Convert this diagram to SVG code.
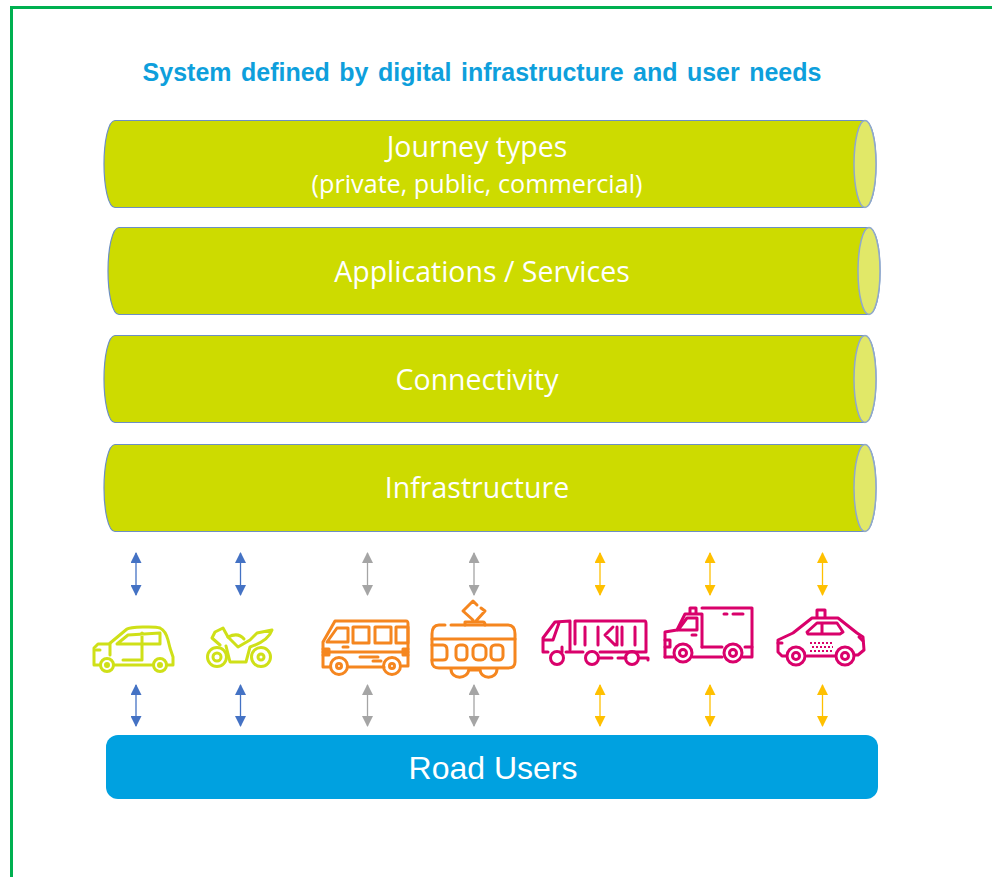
<svg xmlns="http://www.w3.org/2000/svg" width="992" height="877" viewBox="0 0 992 877">
<style>
text{font-family:"Open Sans","Noto Sans",sans-serif;fill:#fff;text-anchor:middle}
.body{fill:#cddb00;stroke:#6d8fc4;stroke-width:1.2}
.cap{fill:#e1e868;stroke:#8fa8cc;stroke-width:1.5}
.lbl{font-size:28.500px}
.ic{fill:none;stroke-width:3;stroke-linecap:round;stroke-linejoin:round}
.lime{stroke:#cfe018}.or{stroke:#f5861f}.pk{stroke:#d9016b}
.ab{stroke:#4472c4}.ag{stroke:#a5a5a5}.ay{stroke:#ffc000}
.ab,.ag,.ay{stroke-width:1.3;fill:none}
.ab{marker-start:url(#mb);marker-end:url(#mb)}
.ag{marker-start:url(#mg);marker-end:url(#mg)}
.ay{marker-start:url(#my);marker-end:url(#my)}
</style>
<defs>
<path id="cyl" d="M11 0H760C768 0 772 20 772 43.500S768 87 760 87H11C4 87 0 65 0 43.500S4 0 11 0Z"/>
<marker id="mb" markerWidth="11" markerHeight="11" refX="10" refY="5.500" orient="auto-start-reverse" markerUnits="userSpaceOnUse"><path d="M0 0L11 5.500L0 11Z" fill="#4472c4"/></marker>
<marker id="mg" markerWidth="11" markerHeight="11" refX="10" refY="5.500" orient="auto-start-reverse" markerUnits="userSpaceOnUse"><path d="M0 0L11 5.500L0 11Z" fill="#a5a5a5"/></marker>
<marker id="my" markerWidth="11" markerHeight="11" refX="10" refY="5.500" orient="auto-start-reverse" markerUnits="userSpaceOnUse"><path d="M0 0L11 5.500L0 11Z" fill="#ffc000"/></marker>
</defs>
<rect width="992" height="877" fill="#fff"/>
<path d="M992 7.500H11.500V877" fill="none" stroke="#00b050" stroke-width="3"/>
<text id="title" x="482" y="81" style="font-family:'Liberation Sans',Arial,sans-serif;font-weight:700;font-size:25px;fill:#0e9fdc;word-spacing:2.500px">System defined by digital infrastructure and user needs</text>

<g id="node-journey" transform="translate(104,120.500)">
<use href="#cyl" class="body"/><ellipse class="cap" cx="761" cy="43.500" rx="11" ry="43.500"/>
<text class="lbl" x="373" y="36.500">Journey types</text>
<text x="373" y="72" font-size="25.200">(private, public, commercial)</text>
</g>
<g id="node-apps" transform="translate(108,227.500)">
<use href="#cyl" class="body"/><ellipse class="cap" cx="761" cy="43.500" rx="11" ry="43.500"/>
<text class="lbl" x="374" y="54">Applications / Services</text>
</g>
<g id="node-connectivity" transform="translate(104,335.500)">
<use href="#cyl" class="body"/><ellipse class="cap" cx="761" cy="43.500" rx="11" ry="43.500"/>
<text class="lbl" x="373" y="54">Connectivity</text>
</g>
<g id="node-infrastructure" transform="translate(104,444.500)">
<use href="#cyl" class="body"/><ellipse class="cap" cx="761" cy="43.500" rx="11" ry="43.500"/>
<text class="lbl" x="373" y="53">Infrastructure</text>
</g>

<g id="connectors">
<path class="ab" d="M136 553V595"/><path class="ab" d="M136 685V726"/>
<path class="ab" d="M240.500 553V595"/><path class="ab" d="M240.500 685V726"/>
<path class="ag" d="M367.500 553V595"/><path class="ag" d="M367.500 685V726"/>
<path class="ag" d="M474 553V595"/><path class="ag" d="M474 685V726"/>
<path class="ay" d="M600 553V595"/><path class="ay" d="M600 685V726"/>
<path class="ay" d="M710 553V595"/><path class="ay" d="M710 685V726"/>
<path class="ay" d="M822.500 553V595"/><path class="ay" d="M822.500 685V726"/>
</g>

<g id="node-car" class="ic lime">
<path d="M100 665H94V648L98 644H109L127 629C130 627 155 626 160 628C164 630 167 636 168 640L170 648L173 657V665H167M153 665H114"/>
<path d="M117 644L128 635L160 633V644ZM142 633V660M110 644V655M123 660H140M96 650H100"/>
<circle cx="107" cy="665" r="6.500"/><circle cx="107" cy="665" r="1.500"/>
<circle cx="160" cy="665" r="6.500"/><circle cx="160" cy="665" r="1.500"/>
</g>
<g id="node-motorbike" class="ic lime">
<circle cx="217" cy="657" r="9.500"/><circle cx="217" cy="657" r="4"/>
<circle cx="261" cy="657" r="9.500"/><circle cx="261" cy="657" r="3"/>
<path d="M220 645L212 638L215 632L223 628L228 637L238 647L250 640L257 633L272 630C269 639 259 644 250 647L246 662H230L226 646"/>
<path d="M228 637C234 634 240 634 244 639"/>
</g>
<g id="node-bus" class="ic or">
<path d="M330 667H323V642L335 621H406C408 621 408 622 408 624V666H402M384 667H349"/>
<path d="M327 642L337 628H348V642ZM353 627H369V643H353ZM375 627H391V643H375ZM408 627H396V643H408Z"/>
<path d="M323 652H408M323 649H329V655H323M408 649H403V655H408M360 657H378M373 661H381M343 647H348"/>
<circle cx="339" cy="666" r="8.500"/><circle cx="339" cy="666" r="2.500"/>
<circle cx="392" cy="666" r="8.500"/><circle cx="392" cy="666" r="2.500"/>
</g>
<g id="node-tram" class="ic or">
<path d="M445 625H439C434 625 432 629 432 634V662C432 666 435 668 439 668H508C513 668 515 666 515 662V634C515 629 513 625 508 625H451"/>
<path d="M432 639H515M432 645H443C446 645 447 647 447 650V656C447 659 446 660 443 660H432"/>
<rect x="456" y="645" width="11" height="15" rx="4"/><rect x="473" y="645" width="13" height="15" rx="5"/><rect x="491" y="645" width="12" height="15" rx="4"/>
<path d="M465 625V622H483C484 622 485 623 485 625M473 620L463 611L473 601L477 605M481 608L485 611L476 621"/>
<path d="M451 669C451 680 468 680 469 669M480 669C480 680 497 680 497 669M469 670H480"/>
</g>
<g id="node-truck" class="ic pk">
<path d="M548 652H543V638L555 622L570 621V644M543 640H553L559 623M570 650V643"/>
<path d="M575 644V621H645C646 621 646 622 646 624V652H600M583 652H566M562 652V647M640 658H648V660M626 658H618M612 658H600"/>
<path d="M585 627V645M598 627V645M613 627L605 635L615 645M617 627V645M622 627V645M635 627V645"/>
<circle cx="557" cy="658" r="6.500"/><circle cx="592" cy="658" r="6.500"/><circle cx="632" cy="658" r="6.500"/>
</g>
<g id="node-van" class="ic pk">
<path d="M665 657V632L677 630L685 614H702V647M690 614V608H696V614"/>
<path d="M702 608H752V657H743M722 657H693M673 657H665"/>
<path d="M678 630L687 618H697V630ZM724 614H727M733 614H743M692 635H696M665 640H670V647H665M702 647H722M745 647H752"/>
<circle cx="683" cy="653" r="9"/><circle cx="683" cy="653" r="3.500"/>
<circle cx="733" cy="653" r="9"/><circle cx="733" cy="653" r="3.500"/>
</g>
<g id="node-taxi" class="ic pk">
<path d="M786 656H782L778 652V640L793 633L812 618H838L857 633L863 637L864 650L858 655H855M835 656H807"/>
<path d="M817 617V610H825V617"/>
<path d="M807 632L817 623H837L843 632L840 634H808ZM822 623V634M778 643H782M859 637L863 641"/>
<g stroke-width="2" stroke-linecap="butt"><path d="M810 643H833" stroke-dasharray="2 2"/><path d="M812 647H833" stroke-dasharray="2 2"/><path d="M810 651H833" stroke-dasharray="2 2"/></g>
<circle cx="796" cy="656" r="9"/><circle cx="796" cy="656" r="3.500"/>
<circle cx="845" cy="656" r="9"/><circle cx="845" cy="656" r="3.500"/>
</g>

<g id="node-road-users">
<rect x="106" y="735" width="772" height="64" rx="12" fill="#00a1e0"/>
<text x="493" y="779" style="font-family:'Liberation Sans',Arial,sans-serif" font-size="32">Road Users</text>
</g>
</svg>
